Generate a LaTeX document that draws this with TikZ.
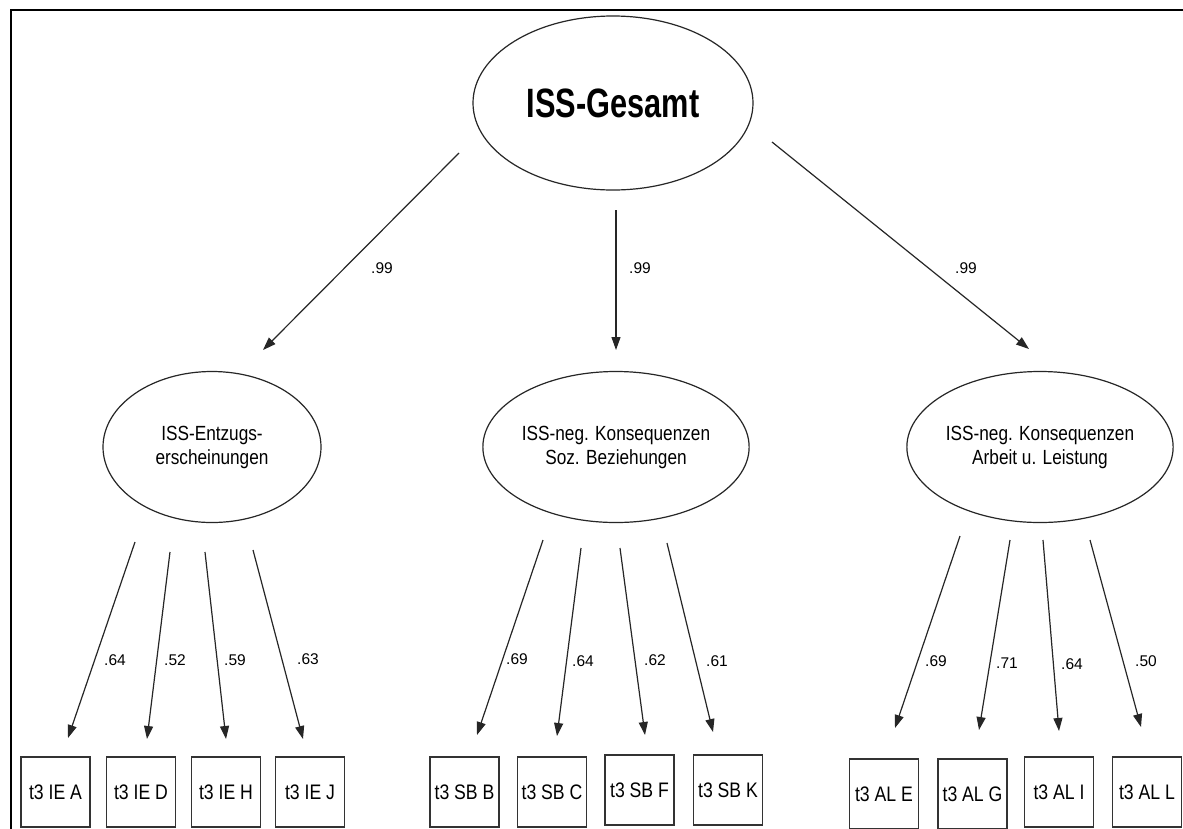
\documentclass[tikz,border=0pt]{standalone}
\usepackage{fontspec}
\setmainfont{Liberation Sans}
\newfontfamily\narrowsans{Liberation Sans}[FakeStretch=0.84]
\newfontfamily\condbold{Liberation Sans}[FakeStretch=0.75,UprightFont=*-Bold]
\usetikzlibrary{shapes.geometric,arrows.meta}
\begin{document}
\begin{tikzpicture}[x=1pt,y=-1pt,
  latent/.style={draw=black!85,line width=1.2pt,ellipse,inner sep=0pt,align=center,font=\narrowsans\fontsize{20.5}{24}\selectfont},
  item/.style={draw=black!80,line width=1.4pt,rectangle,inner sep=0pt,minimum width=69pt,minimum height=70pt,font=\narrowsans\fontsize{21}{22}\selectfont},
  arr/.style={draw=black!85,line width=1.2pt,-{Triangle[length=13pt,width=9pt]}},
  lbl/.style={font=\fontsize{15.5}{18}\selectfont,inner sep=0pt}]
\useasboundingbox (0,0) rectangle (1183,828);
\fill[white] (0,0) rectangle (1183,828);
\draw[line width=2.5pt] (11,900) -- (11,10) -- (1200,10);

\node[latent,minimum width=280pt,minimum height=174pt,font=\condbold\fontsize{41}{44}\selectfont] (g) at (613,103) {ISS-Gesamt};
\node[latent,minimum width=218pt,minimum height=151pt] (ie) at (212,447) {ISS-Entzugs-\\erscheinungen};
\node[latent,minimum width=218pt,minimum height=151pt] (sb) at (616,447) {ISS-neg. Konsequenzen\\Soz. Beziehungen};
\node[latent,minimum width=216pt,minimum height=151pt] (al) at (1040,447) {ISS-neg. Konsequenzen\\Arbeit u. Leistung};

% top-level paths
\coordinate (g1s) at (459,153); \coordinate (g1e) at (263,350);
\coordinate (g2s) at (616,210); \coordinate (g2e) at (616,350);
\coordinate (g3s) at (772,142); \coordinate (g3e) at (1029,349);
\draw[arr] (g1s) -- (g1e);
\draw[arr] (g2s) -- (g2e);
\draw[arr] (g3s) -- (g3e);
\node[lbl] (l1) at (382,268) {.99};
\node[lbl] (l2) at (640,268) {.99};
\node[lbl] (l3) at (966,268) {.99};

% boxes
\node[item] (ieA) at (55.5,792) {t3 IE A};
\node[item] (ieD) at (141,792) {t3 IE D};
\node[item] (ieH) at (226,792) {t3 IE H};
\node[item] (ieJ) at (310,792) {t3 IE J};
\node[item] (sbB) at (464.5,792) {t3 SB B};
\node[item] (sbC) at (552,792) {t3 SB C};
\node[item] (sbF) at (639.5,790) {t3 SB F};
\node[item] (sbK) at (728,790) {t3 SB K};
\node[item] (alE) at (884,794) {t3 AL E};
\node[item] (alG) at (972.5,794) {t3 AL G};
\node[item] (alI) at (1059,792) {t3 AL I};
\node[item] (alL) at (1147,792) {t3 AL L};

% IE loadings
\coordinate (a1) at (135,542); \coordinate (b1) at (68,738);
\coordinate (a2) at (170,552); \coordinate (b2) at (147,739);
\coordinate (a3) at (205,552); \coordinate (b3) at (226,739);
\coordinate (a4) at (253,550); \coordinate (b4) at (303,739);
\draw[arr] (a1) -- (b1);
\draw[arr] (a2) -- (b2);
\draw[arr] (a3) -- (b3);
\draw[arr] (a4) -- (b4);
\node[lbl] (m1) at (115,660) {.64};
\node[lbl] (m2) at (175,660) {.52};
\node[lbl] (m3) at (235,660) {.59};
\node[lbl] (m4) at (308,659) {.63};

% SB loadings
\coordinate (a5) at (543,540); \coordinate (b5) at (477,735);
\coordinate (a6) at (581,548); \coordinate (b6) at (557,736);
\coordinate (a7) at (620,548); \coordinate (b7) at (645,735);
\coordinate (a8) at (667,543); \coordinate (b8) at (713,732);
\draw[arr] (a5) -- (b5);
\draw[arr] (a6) -- (b6);
\draw[arr] (a7) -- (b7);
\draw[arr] (a8) -- (b8);
\node[lbl] (m5) at (517,659) {.69};
\node[lbl] (m6) at (583,661) {.64};
\node[lbl] (m7) at (655,660) {.62};
\node[lbl] (m8) at (717,661) {.61};

% AL loadings
\coordinate (a9) at (960,536); \coordinate (b9) at (895,728);
\coordinate (a10) at (1010,540); \coordinate (b10) at (979,730);
\coordinate (a11) at (1043,540); \coordinate (b11) at (1059,731);
\coordinate (a12) at (1090,540); \coordinate (b12) at (1141,727);
\draw[arr] (a9) -- (b9);
\draw[arr] (a10) -- (b10);
\draw[arr] (a11) -- (b11);
\draw[arr] (a12) -- (b12);
\node[lbl] (m9) at (936,661) {.69};
\node[lbl] (m10) at (1007,663) {.71};
\node[lbl] (m11) at (1072,664) {.64};
\node[lbl] (m12) at (1146,661) {.50};
\end{tikzpicture}
\end{document}
